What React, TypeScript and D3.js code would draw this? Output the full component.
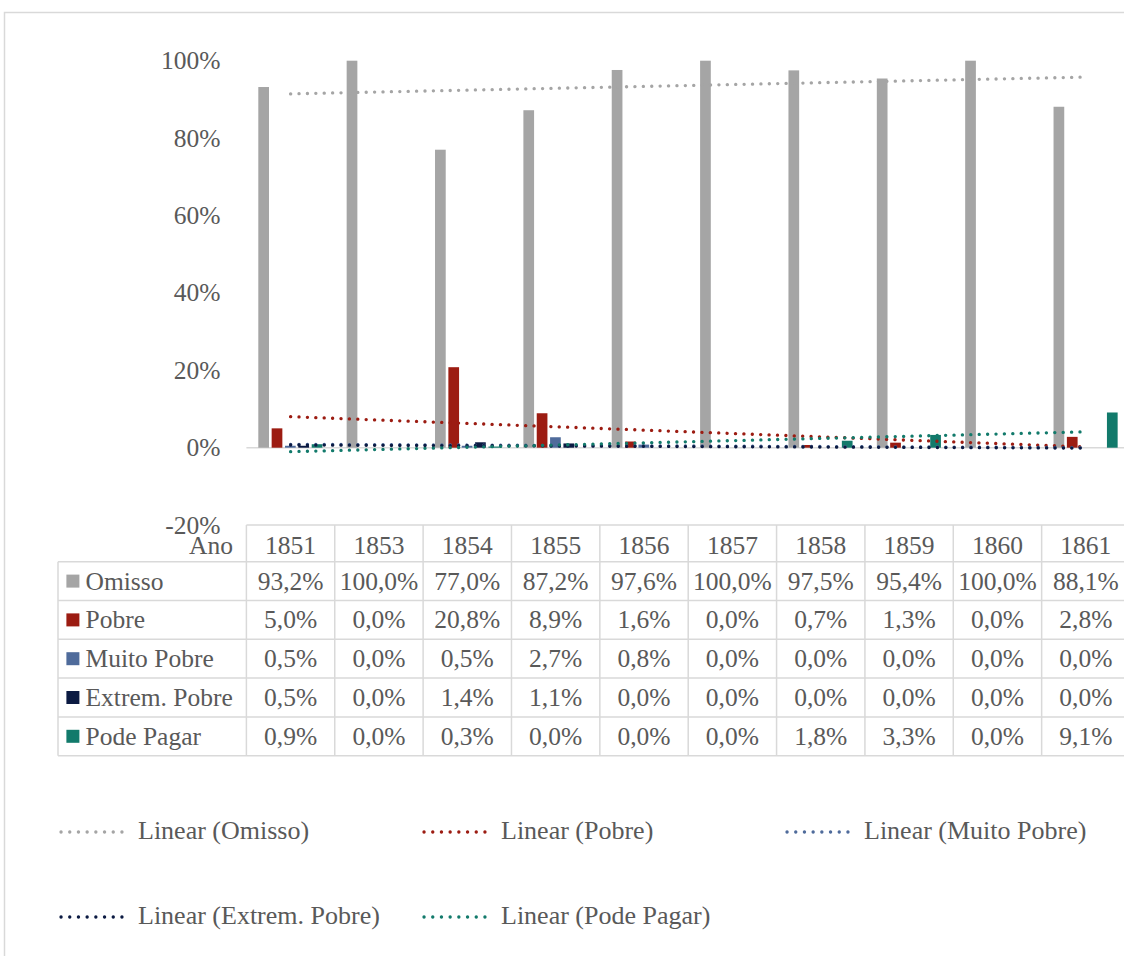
import React from "react";
import * as d3 from "d3";

const years = ["1851", "1853", "1854", "1855", "1856", "1857", "1858", "1859", "1860", "1861"];
const seriesNames = ["Omisso", "Pobre", "Muito Pobre", "Extrem. Pobre", "Pode Pagar"];
const omisso = [93.2, 100.0, 77.0, 87.2, 97.6, 100.0, 97.5, 95.4, 100.0, 88.1];
const pobre = [5.0, 0.0, 20.8, 8.9, 1.6, 0.0, 0.7, 1.3, 0.0, 2.8];
const muitoPobre = [0.5, 0.0, 0.5, 2.7, 0.8, 0.0, 0.0, 0.0, 0.0, 0.0];
const extremPobre = [0.5, 0.0, 1.4, 1.1, 0.0, 0.0, 0.0, 0.0, 0.0, 0.0];
const podePagar = [0.9, 0.0, 0.3, 0.0, 0.0, 0.0, 1.8, 3.3, 0.0, 9.1];
const colors = ["#a5a5a5", "#9c1c12", "#4f6b9b", "#0b1a42", "#127a6b"];
const yTicks = [-20, 0, 20, 40, 60, 80, 100];
const legendItems = ["Linear (Omisso)", "Linear (Pobre)", "Linear (Muito Pobre)", "Linear (Extrem. Pobre)", "Linear (Pode Pagar)"];

const allSeries = [omisso, pobre, muitoPobre, extremPobre, podePagar];

function fmt(v: number) {
  return v.toFixed(1).replace(".", ",") + "%";
}

function linreg(vals: number[]) {
  const n = vals.length;
  const xs = vals.map((_, i) => i + 1);
  const mx = d3.mean(xs)!;
  const my = d3.mean(vals)!;
  let sxy = 0, sxx = 0;
  xs.forEach((x, i) => { sxy += (x - mx) * (vals[i] - my); sxx += (x - mx) * (x - mx); });
  const b = sxy / sxx;
  const a = my - b * mx;
  return [a + b * 1, a + b * n];
}

export default function App() {
  const W = 1124, H = 956;
  const font = "Liberation Serif, Times New Roman, serif";
  const textColor = "#595959";
  const grid = "#d9d9d9";
  const x0 = 246.4, x1 = 1130;
  const x = d3.scaleBand<string>().domain(years).range([x0, x1]).padding(0);
  const y = d3.scaleLinear().domain([-20, 100]).range([525.1, 60.7]);
  const bw = x.bandwidth();
  const barW = 10.7, step = 13.35, off = 11.9;
  const fs = 25.5;

  const headerTop = 525;
  const firstRow = 561.7;
  const rowH = 38.8;
  const rowTops = seriesNames.map((_, i) => firstRow + i * rowH);
  const tableBottom = firstRow + 5 * rowH;
  const tableLeft = 58;

  const dash = "0.1 8.3";

  return (
    <svg width={W} height={H} style={{ position: "absolute", left: 0, top: 0, background: "#fff", fontFamily: font }}>
      <rect x={4.5} y={12.5} width={1140} height={960} fill="#fff" stroke={grid} strokeWidth={1.5} />
      {yTicks.map((t) => (
        <text key={t} x={220.5} y={y(t)} textAnchor="end" dominantBaseline="central" fontSize={fs} fill={textColor} style={{ fontFamily: font }}>
          {t}%
        </text>
      ))}
      <line x1={x0} x2={x1} y1={y(0)} y2={y(0)} stroke={grid} strokeWidth={1.5} />
      {allSeries.map((vals, si) =>
        vals.map((v, i) => {
          if (v === 0) return null;
          const bx = x(years[i])! + off + si * step;
          return (
            <rect key={si + "-" + i} x={bx} y={y(v)} width={barW} height={y(0) - y(v)} fill={colors[si]} />
          );
        })
      )}
      {allSeries.map((vals, si) => {
        const [a, b] = linreg(vals);
        const xa = x(years[0])! + bw / 2;
        const xb = x(years[years.length - 1])! + bw / 2;
        return (
          <line key={"t" + si} x1={xa} x2={xb} y1={y(a)} y2={y(b)} stroke={colors[si]} strokeWidth={3.3}
            strokeDasharray={dash} strokeLinecap="round" />
        );
      })}
      <g>
        <line x1={x0} x2={x1} y1={headerTop} y2={headerTop} stroke={grid} strokeWidth={1.5} />
        {rowTops.map((t) => (
          <line key={"h" + t} x1={tableLeft} x2={x1} y1={t} y2={t} stroke={grid} strokeWidth={1.5} />
        ))}
        <line x1={tableLeft} x2={x1} y1={tableBottom} y2={tableBottom} stroke={grid} strokeWidth={1.5} />
        <line x1={tableLeft} x2={tableLeft} y1={rowTops[0]} y2={tableBottom} stroke={grid} strokeWidth={1.5} />
        {years.map((yr) => (
          <line key={"v" + yr} x1={x(yr)!} x2={x(yr)!} y1={headerTop} y2={tableBottom} stroke={grid} strokeWidth={1.5} />
        ))}
        <text x={233} y={545} textAnchor="end" dominantBaseline="central" fontSize={fs} fill={textColor} style={{ fontFamily: font }}>Ano</text>
        {years.map((yr) => (
          <text key={"y" + yr} x={x(yr)! + bw / 2} y={545} textAnchor="middle" dominantBaseline="central" fontSize={fs} fill={textColor} style={{ fontFamily: font }}>
            {yr}
          </text>
        ))}
        {seriesNames.map((name, si) => {
          const cy = rowTops[si] + rowH / 2;
          return (
            <g key={"r" + si}>
              <rect x={66.4} y={cy - 6.5} width={13} height={13} fill={colors[si]} />
              <text x={85.5} y={cy} dominantBaseline="central" fontSize={fs} fill={textColor} style={{ fontFamily: font }}>{name}</text>
              {allSeries[si].map((v, i) => (
                <text key={i} x={x(years[i])! + bw / 2} y={cy} textAnchor="middle" dominantBaseline="central" fontSize={fs} fill={textColor} style={{ fontFamily: font }}>
                  {fmt(v)}
                </text>
              ))}
            </g>
          );
        })}
      </g>
      {legendItems.map((lab, i) => {
        const col = i < 3 ? i : i - 3;
        const row = i < 3 ? 0 : 1;
        const lx = [61, 424, 787][col];
        const cy = row === 0 ? 830 : 915;
        return (
          <g key={"l" + i}>
            <line x1={lx} x2={lx + 69} y1={cy + 2} y2={cy + 2} stroke={colors[i]} strokeWidth={3.3} strokeDasharray="0.1 8.6" strokeLinecap="round" />
            <text x={lx + 77} y={cy} dominantBaseline="central" fontSize={26} fill={textColor} style={{ fontFamily: font }}>{lab}</text>
          </g>
        );
      })}
    </svg>
  );
}
